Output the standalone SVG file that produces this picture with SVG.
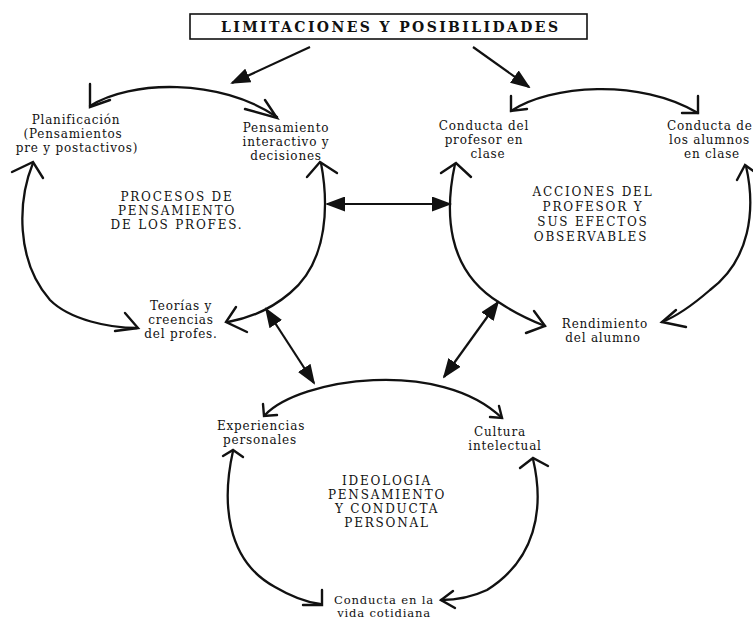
<svg xmlns="http://www.w3.org/2000/svg" width="753" height="621" viewBox="0 0 753 621">
<style>
  .bg { fill: #ffffff; }
  .box { fill: #ffffff; stroke: #111; stroke-width: 1.6; }
  .title { font-family: "DejaVu Serif", "Liberation Serif", serif; font-weight: bold; font-size: 14px; fill: #111; }
  .lbl { font-family: "DejaVu Serif", "Liberation Serif", serif; font-size: 12px; fill: #111; letter-spacing: 0.8px; text-anchor: middle; }
  .st { text-anchor: start; }
  .sm { font-size: 11.6px; }
  .cap { font-family: "DejaVu Serif", "Liberation Serif", serif; font-size: 12px; fill: #111; letter-spacing: 1.8px; text-anchor: middle; }
  .arc { fill: none; stroke: #111; stroke-width: 2.3; stroke-linecap: round; }
  .head { fill: none; stroke: #111; stroke-width: 2.4; stroke-linecap: round; stroke-linejoin: miter; }
  .link { fill: none; stroke: #111; stroke-width: 2.2; }
</style>
<defs>
  <marker id="tri" viewBox="0 0 20 15" refX="18" refY="7.5" markerWidth="20" markerHeight="15" markerUnits="userSpaceOnUse" orient="auto-start-reverse">
    <path d="M0,0 L20,7.5 L0,15 Z" fill="#111"/>
  </marker>
</defs>
<rect class="bg" x="0" y="0" width="753" height="621"/>

<g id="n-title">
  <rect class="box" x="190" y="14" width="397" height="25"/>
  <text class="title" x="221" y="32" textLength="337" lengthAdjust="spacing">LIMITACIONES Y POSIBILIDADES</text>
</g>

<g id="n-planificacion">
  <text class="lbl" x="76" y="124">Planificación</text>
  <text class="lbl" x="73" y="138">(Pensamientos</text>
  <text class="lbl" x="77" y="152">pre y postactivos)</text>
</g>
<g id="n-pensamiento">
  <text class="lbl" x="286" y="132">Pensamiento</text>
  <text class="lbl" x="286" y="146">interactivo y</text>
  <text class="lbl" x="286" y="160">decisiones</text>
</g>
<g id="n-procesos">
  <text class="cap" x="177" y="201">PROCESOS DE</text>
  <text class="cap" x="177" y="215">PENSAMIENTO</text>
  <text class="cap" x="177" y="229">DE LOS PROFES.</text>
</g>
<g id="n-teorias">
  <text class="lbl" x="181" y="310">Teorías y</text>
  <text class="lbl" x="181" y="324">creencias</text>
  <text class="lbl" x="181" y="338">del profes.</text>
</g>
<g id="n-conducta-profesor">
  <text class="lbl" x="484" y="130">Conducta del</text>
  <text class="lbl" x="484" y="144">profesor en</text>
  <text class="lbl" x="488" y="158">clase</text>
</g>
<g id="n-conducta-alumnos">
  <text class="lbl st" x="667" y="130">Conducta de</text>
  <text class="lbl st" x="669" y="144">los alumnos</text>
  <text class="lbl st" x="684" y="158">en clase</text>
</g>
<g id="n-acciones">
  <text class="cap" x="593" y="196">ACCIONES DEL</text>
  <text class="cap" x="593" y="211">PROFESOR Y</text>
  <text class="cap" x="593" y="226">SUS EFECTOS</text>
  <text class="cap" x="591" y="241">OBSERVABLES</text>
</g>
<g id="n-rendimiento">
  <text class="lbl" x="605" y="328">Rendimiento</text>
  <text class="lbl" x="603" y="342">del alumno</text>
</g>
<g id="n-experiencias">
  <text class="lbl" x="261" y="430">Experiencias</text>
  <text class="lbl" x="260" y="444">personales</text>
</g>
<g id="n-cultura">
  <text class="lbl" x="500" y="436">Cultura</text>
  <text class="lbl" x="505" y="450">intelectual</text>
</g>
<g id="n-ideologia">
  <text class="cap" x="387" y="485">IDEOLOGIA</text>
  <text class="cap" x="387" y="499">PENSAMIENTO</text>
  <text class="cap" x="387" y="513">Y CONDUCTA</text>
  <text class="cap" x="387" y="527">PERSONAL</text>
</g>
<g id="n-conducta-vida">
  <text class="lbl sm" x="384" y="603.5">Conducta en la</text>
  <text class="lbl sm" x="384" y="617">vida cotidiana</text>
</g>

<g id="connectors">
  <!-- from title -->
  <line class="link" x1="310" y1="47" x2="232" y2="83" marker-end="url(#tri)"/>
  <line class="link" x1="473" y1="47" x2="529" y2="87" marker-end="url(#tri)"/>
  <!-- between circles -->
  <line class="link" x1="327" y1="204" x2="450" y2="204" marker-start="url(#tri)" marker-end="url(#tri)"/>
  <line class="link" x1="266" y1="309" x2="314" y2="383" marker-start="url(#tri)" marker-end="url(#tri)"/>
  <line class="link" x1="498" y1="302" x2="444" y2="377" marker-start="url(#tri)" marker-end="url(#tri)"/>

  <!-- left cycle -->
  <path class="arc" d="M 90 106 C 130 80, 220 78, 277 117"/>
  <path class="head" d="M 90 84 L 90 107 L 110 100"/>
  <path class="head" d="M 245 109 L 277 118 L 265 100"/>
  <path class="arc" d="M 33 163 C 18 200, 15 260, 50 300 C 70 320, 110 328, 137 328"/>
  <path class="head" d="M 12 172 L 33 162 L 43 178"/>
  <path class="head" d="M 125 313 L 138 328 L 115 331"/>
  <path class="arc" d="M 321 163 C 328 200, 330 260, 290 293 C 270 310, 250 318, 228 322"/>
  <path class="head" d="M 307 177 L 320 162 L 337 173"/>
  <path class="head" d="M 236 307 L 226 322 L 247 332"/>

  <!-- right cycle -->
  <path class="arc" d="M 511 111 C 550 85, 640 78, 698 113"/>
  <path class="head" d="M 511 96 L 511 111 L 527 109"/>
  <path class="head" d="M 698 96 L 698 113 L 682 113"/>
  <path class="arc" d="M 455 164 C 445 210, 445 270, 500 303 C 515 313, 530 320, 545 326"/>
  <path class="head" d="M 441 173 L 456 163 L 471 177"/>
  <path class="head" d="M 534 311 L 545 326 L 526 333"/>
  <path class="arc" d="M 746 166 C 756 210, 750 260, 710 290 C 695 303, 680 315, 662 322"/>
  <path class="head" d="M 737 180 L 745 165 L 756 173"/>
  <path class="head" d="M 676 310 L 662 322 L 686 327"/>

  <!-- bottom cycle -->
  <path class="arc" d="M 265 415 C 300 378, 440 358, 502 418"/>
  <path class="head" d="M 263 404 L 264 416 L 277 415"/>
  <path class="head" d="M 499 406 L 502 418 L 490 417"/>
  <path class="arc" d="M 233 451 C 222 500, 225 560, 275 587 C 292 597, 305 602, 320 604"/>
  <path class="head" d="M 223 456 L 233 450 L 243 457"/>
  <path class="head" d="M 322 590 L 322 605 L 303 605"/>
  <path class="arc" d="M 533 459 C 545 510, 535 560, 487 590 C 470 598, 455 600, 441 600"/>
  <path class="head" d="M 520 468 L 533 458 L 548 466"/>
  <path class="head" d="M 453 591 L 441 600 L 455 608"/>
</g>
</svg>
